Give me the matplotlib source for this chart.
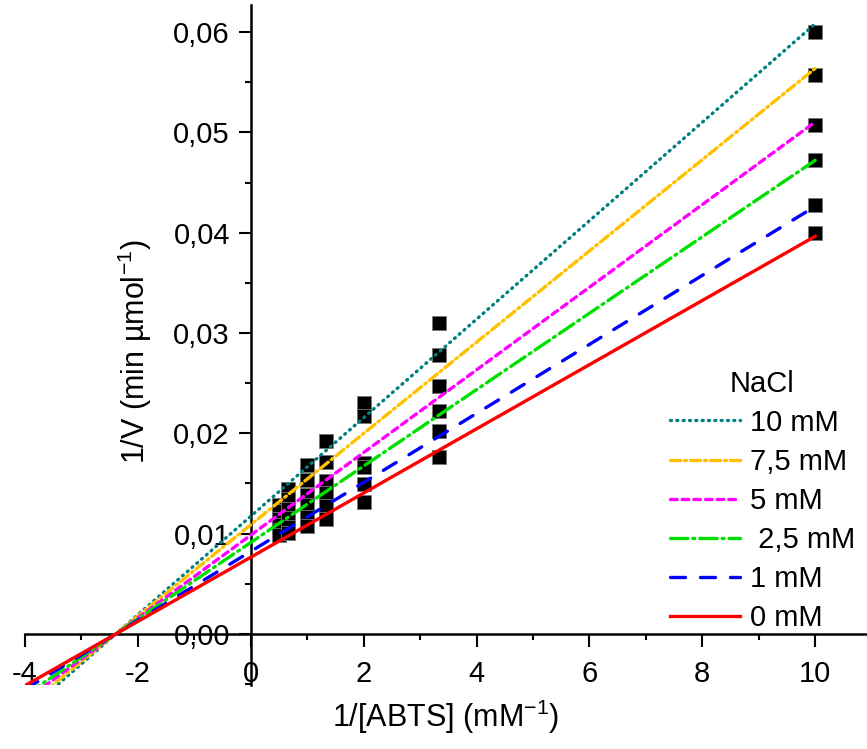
import numpy as np
import matplotlib
matplotlib.use('Agg')
import matplotlib.pyplot as plt
from matplotlib.ticker import MultipleLocator, FuncFormatter

plt.rcParams['font.family'] = ['Liberation Sans', 'DejaVu Sans']
plt.rcParams['mathtext.fontset'] = 'custom'
plt.rcParams['mathtext.rm'] = 'Liberation Sans'

# 1/[ABTS] (mM^-1)
x_abts = [0.5, 0.667, 1.0, 1.333, 2.0, 3.333, 10.0]

# 1/V for each NaCl concentration
inv_v_10 = [0.0128, 0.0144, 0.0168, 0.0192, 0.0230, 0.0310, 0.0600]
inv_v_7_5 = [0.0122, 0.0134, 0.0153, 0.0171, 0.0217, 0.0278, 0.0557]
inv_v_5 = [0.0115, 0.0124, 0.0138, 0.0152, 0.0170, 0.0247, 0.0507]
inv_v_2_5 = [0.0109, 0.0116, 0.0128, 0.0140, 0.0166, 0.0222, 0.0472]
inv_v_1 = [0.0104, 0.0107, 0.0117, 0.0127, 0.0149, 0.0202, 0.0428]
inv_v_0 = [0.0099, 0.0101, 0.0108, 0.0115, 0.0131, 0.0176, 0.0400]

# linear fit parameters (slope, intercept)
fit_slope = [0.00491, 0.00455, 0.00412, 0.00381, 0.00344, 0.00320]
fit_icept = [0.01173, 0.01088, 0.00984, 0.00911, 0.00822, 0.00764]

labels = ['10 mM', '7,5 mM', '5 mM', ' 2,5 mM', '1 mM', '0 mM']
colors = ['#008080', '#FFC000', '#FF00FF', '#00E000', '#0000FF', '#FF0000']
styles = [(0, (0.3, 1.6)), (0, (3.0, 1.2, 0.6, 1.2)), (0, (2.0, 1.5)),
          (0, (5.2, 1.5, 0.6, 1.5)), (0, (4.5, 4.5)), '-']
series = [inv_v_10, inv_v_7_5, inv_v_5, inv_v_2_5, inv_v_1, inv_v_0]

fig = plt.figure(figsize=(8.67, 7.49), dpi=100)
ax = fig.add_axes([25/867, 64/749, 841/867, 680/749])

xline = np.array([-4.0, 10.0])
for ys, m, b, c, ls, lab in zip(series, fit_slope, fit_icept, colors, styles, labels):
    ax.plot(x_abts, ys, 's', color='black', markersize=10, mec='#777777',
            mew=0.6, zorder=2)
    ax.plot(xline, b + m*xline, color=c, linestyle=ls, lw=2.4,
            dash_capstyle='round', label=lab, zorder=3)

ax.set_xlim(-4, 10.9)
ax.set_ylim(-0.0051, 0.0627)

for s in ['top', 'right']:
    ax.spines[s].set_visible(False)
ax.spines['left'].set_position(('data', 0))
ax.spines['bottom'].set_position(('data', 0))
ax.spines['left'].set_linewidth(1.8)
ax.spines['bottom'].set_linewidth(1.8)

ax.xaxis.set_major_locator(MultipleLocator(2))
ax.xaxis.set_minor_locator(MultipleLocator(1))
ax.yaxis.set_major_locator(MultipleLocator(0.01))
ax.yaxis.set_minor_locator(MultipleLocator(0.005))
ax.yaxis.set_major_formatter(FuncFormatter(lambda v, p: f'{v:.2f}'.replace('.', ',')))
ax.xaxis.set_major_formatter(FuncFormatter(lambda v, p: f'{v:g}'))
ax.tick_params(which='major', direction='out', length=9, width=1.5, labelsize=21, pad=10)
ax.tick_params(which='minor', direction='out', length=4, width=1.5)
ax.tick_params(axis='y', pad=6)

ax.set_xlabel('1/[ABTS] (mM$^{\\mathregular{-1}}$)', fontsize=22)
ax.set_ylabel('1/V (min µmol$^{\\mathregular{-1}}$)', fontsize=22)
ax.xaxis.set_label_coords(0.5, -0.047)
ax.xaxis.label.set_va('center')
ax.yaxis.set_label_coords((135-25)/841, 0.49)
ax.yaxis.label.set_va('center')

leg = ax.legend(title='NaCl', loc='upper left', bbox_to_anchor=(655/867, 1 - 355/749),
                bbox_transform=fig.transFigure, frameon=False, fontsize=21,
                title_fontsize=21, handlelength=2.4, handletextpad=0.35,
                labelspacing=0.38, borderpad=0)

fig.savefig('out.png', dpi=100)
